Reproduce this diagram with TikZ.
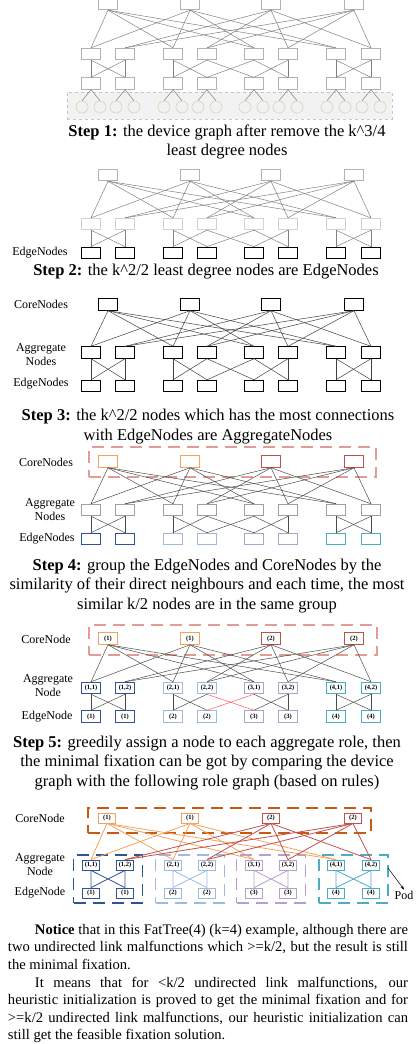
\documentclass[tikz,border=0pt]{standalone}
\usepackage{fontspec}
\setmainfont{Liberation Serif}
\usetikzlibrary{positioning}
\usetikzlibrary{arrows.meta}

\definecolor{coreA}{HTML}{F4A35F}
\definecolor{coreB}{HTML}{C0504D}
\definecolor{podA}{HTML}{2F5496}
\definecolor{podB}{HTML}{9DBBE0}
\definecolor{podC}{HTML}{B4A0CC}
\definecolor{podD}{HTML}{4BACC6}
\definecolor{corebox}{HTML}{E39C95}
\definecolor{rolebox}{HTML}{C55A11}
\definecolor{hostc}{HTML}{D9D6AE}

% core -> aggregate links, aggregate -> edge links of the device graph
\newcommand{\uplinks}{1/1,1/3,1/5,1/7,2/1,2/3,2/5,2/7,3/2,3/4,3/6,3/8,4/2,4/4,4/6,4/8}
\newcommand{\downlinks}{1/1,1/2,2/1,2/2,3/3,3/4,4/3,5/6,6/5,6/6,7/7,7/8,8/7,8/8}
\newcommand{\badlinks}{4/5,5/4}

\begin{document}
\begin{tikzpicture}[x=1pt, y=-1pt,
    switch/.style={draw, rectangle, minimum width=19pt, minimum height=11.5pt, inner sep=0pt, line width=0.8pt, font=\fontsize{6.5}{7}\selectfont\bfseries},
    role/.style={switch, minimum width=17pt, minimum height=10pt},
    host/.style={draw=hostc, circle, minimum size=12pt, inner sep=0pt, line width=0.6pt},
    rolename/.style={font=\fontsize{12}{14}\selectfont, align=center, inner sep=1pt},
    steptext/.style={font=\fontsize{16.5}{19.5}\selectfont, align=center},
    link/.style={line width=0.5pt},
    group/.style={draw, rectangle, dash pattern=on 12pt off 7pt, line width=1.2pt, minimum height=30pt, inner sep=0pt}
  ]
  \useasboundingbox (0,0) rectangle (415,1044);

  % Step 1: device graph
  \node[draw=gray!45, dashed, fill=gray!10, minimum width=325pt, minimum height=27pt, inner sep=0pt] (hosts) at (229.5,105.5) {};
  \foreach \x [count=\i] in {108,190,271,354}
    \node[switch, draw=gray!60] (s1core\i) at (\x,4) {};
  \foreach \x [count=\i] in {91,125,173,207,254,288,336,371} {
    \node[switch, draw=gray!60] (s1agg\i) at (\x,54) {};
    \node[switch, draw=gray!60] (s1edge\i) at (\x,83.5) {};
    \node[host] (s1hostA\i) at (\x-9,107) {};
    \node[host] (s1hostB\i) at (\x+9,107) {};
    \draw[link, gray] (s1edge\i.south) -- (s1hostA\i.north);
    \draw[link, gray] (s1edge\i.south) -- (s1hostB\i.north);
  }
  \foreach \src/\dst in \uplinks
    \draw[link, gray] (s1core\src.south) -- (s1agg\dst.north);
  \foreach \src/\dst in \downlinks
    \draw[link, gray] (s1agg\src.south) -- (s1edge\dst.north);
  \foreach \src/\dst in \badlinks
    \draw[link, gray] (s1agg\src.south) -- (s1edge\dst.north);
  \node[steptext] (cap1) at (227,142) {\textbf{Step 1:} the device graph after remove the k\textasciicircum3/4\\least degree nodes};

  % Step 2: edge nodes
  \foreach \x [count=\i] in {108,190,271,354}
    \node[switch, draw=gray!60] (s2core\i) at (\x,175) {};
  \foreach \x [count=\i] in {91,125,173,207,254,288,336,371} {
    \node[switch, draw=gray!35] (s2agg\i) at (\x,224) {};
    \node[switch, draw=black, line width=1.3pt] (s2edge\i) at (\x,253) {};
  }
  \foreach \src/\dst in \uplinks
    \draw[link, gray] (s2core\src.south) -- (s2agg\dst.north);
  \foreach \src/\dst in \downlinks
    \draw[link, gray] (s2agg\src.south) -- (s2edge\dst.north);
  \foreach \src/\dst in \badlinks
    \draw[link, gray] (s2agg\src.south) -- (s2edge\dst.north);
  \node[rolename] (s2edgename) at (40,253) {EdgeNodes};
  \node[steptext] (cap2) at (206,272) {\textbf{Step 2:} the k\textasciicircum2/2 least degree nodes are EdgeNodes};

  % Step 3: aggregate nodes
  \foreach \x [count=\i] in {108,190,271,354}
    \node[switch, line width=0.9pt] (s3core\i) at (\x,304.5) {};
  \foreach \x [count=\i] in {91,125,173,207,254,288,336,371} {
    \node[switch, line width=0.9pt] (s3agg\i) at (\x,352.5) {};
    \node[switch, line width=0.9pt] (s3edge\i) at (\x,386) {};
  }
  \foreach \src/\dst in \uplinks
    \draw[link, black!75] (s3core\src.south) -- (s3agg\dst.north);
  \foreach \src/\dst in \downlinks
    \draw[link, black!75] (s3agg\src.south) -- (s3edge\dst.north);
  \foreach \src/\dst in \badlinks
    \draw[link, black!75] (s3agg\src.south) -- (s3edge\dst.north);
  \node[rolename] (s3corename) at (41,304.5) {CoreNodes};
  \node[rolename] (s3aggname) at (41,354.5) {Aggregate\\Nodes};
  \node[rolename] (s3edgename) at (41,384) {EdgeNodes};
  \node[steptext] (cap3) at (208,426.5) {\textbf{Step 3:} the k\textasciicircum2/2 nodes which has the most connections\\with EdgeNodes are AggregateNodes};

  % Step 4: grouping
  \node[group, draw=corebox, minimum width=287pt] (s4coregroup) at (232.5,462) {};
  \foreach \x/\col [count=\i] in {108/coreA,190/coreA,271/coreB,354/coreB}
    \node[switch, draw=\col, line width=1pt] (s4core\i) at (\x,461.5) {};
  \foreach \x/\col [count=\i] in {91/podA,125/podA,173/podB,207/podB,254/podC,288/podC,336/podD,371/podD} {
    \node[switch, draw=gray!75, line width=1pt] (s4agg\i) at (\x,510) {};
    \node[switch, draw=\col, line width=1pt] (s4edge\i) at (\x,539) {};
  }
  \foreach \src/\dst in \uplinks
    \draw[link, black!70] (s4core\src.south) -- (s4agg\dst.north);
  \foreach \src/\dst in \downlinks
    \draw[link, black!70] (s4agg\src.south) -- (s4edge\dst.north);
  \foreach \src/\dst in \badlinks
    \draw[link, black!70] (s4agg\src.south) -- (s4edge\dst.north);
  \node[rolename] (s4corename) at (46,462) {CoreNodes};
  \node[rolename] (s4aggname) at (50,510) {Aggregate\\Nodes};
  \node[rolename] (s4edgename) at (47,539) {EdgeNodes};
  \node[steptext] (cap4) at (207,586) {\textbf{Step 4:} group the EdgeNodes and CoreNodes by the\\similarity of their direct neighbours and each time, the most\\similar k/2 nodes are in the same group};

  % Step 5: role assignment
  \node[group, draw=corebox, minimum width=288pt] (s5coregroup) at (233,640) {};
  \foreach \x/\col/\n [count=\i] in {108/coreA/1,190/coreA/1,271/coreB/2,354/coreB/2}
    \node[switch, draw=\col, line width=1pt] (s5core\i) at (\x,638.5) {(\n)};
  \foreach \x/\col/\p/\j [count=\i] in {91/podA/1/1,125/podA/1/2,173/podB/2/1,207/podB/2/2,254/podC/3/1,288/podC/3/2,336/podD/4/1,371/podD/4/2} {
    \node[switch, draw=\col, line width=1pt] (s5agg\i) at (\x,688) {(\p,\j)};
    \node[switch, draw=\col, line width=1pt] (s5edge\i) at (\x,716.5) {(\p)};
  }
  \foreach \src/\dst in \uplinks
    \draw[link, black!70] (s5core\src.south) -- (s5agg\dst.north);
  \foreach \src/\dst in \downlinks
    \draw[link, black!70] (s5agg\src.south) -- (s5edge\dst.north);
  \foreach \src/\dst in \badlinks
    \draw[link, red!65] (s5agg\src.south) -- (s5edge\dst.north);
  \node[rolename] (s5corename) at (46,639) {CoreNode};
  \node[rolename] (s5aggname) at (48,686) {Aggregate\\Node};
  \node[rolename] (s5edgename) at (47,717) {EdgeNode};
  \node[steptext] (cap5) at (207,763) {\textbf{Step 5:} greedily assign a node to each aggregate role, then\\the minimal fixation can be got by comparing the device\\graph with the following role graph (based on rules)};

  % Role graph
  \node[group, draw=rolebox, line width=1.5pt, minimum width=283pt, minimum height=25pt] (rcoregroup) at (229.5,820.5) {};
  \foreach \x/\col [count=\i] in {108/podA,190/podB,271/podC,353.5/podD}
    \node[group, draw=\col, line width=1.5pt, minimum width=69pt, minimum height=48pt] (pod\i) at (\x,879) {};
  \foreach \x/\col/\n [count=\i] in {107/coreA/1,190/coreA/1,271/coreB/2,353/coreB/2}
    \node[role, draw=\col] (rcore\i) at (\x,818) {(\n)};
  \foreach \x/\col/\p/\j [count=\i] in {91/podA/1/1,125/podA/1/2,173/podB/2/1,207/podB/2/2,254/podC/3/1,288/podC/3/2,336/podD/4/1,371/podD/4/2} {
    \node[role, draw=\col] (ragg\i) at (\x,865) {(\p,\j)};
    \node[role, draw=\col] (redge\i) at (\x,893) {(\p)};
  }
  \foreach \dst in {1,3,5,7} {
    \draw[link, coreA, line width=0.8pt] (rcore1.south) -- (ragg\dst.north);
    \draw[link, coreA, line width=0.8pt] (rcore2.south) -- (ragg\dst.north);
  }
  \foreach \dst in {2,4,6,8} {
    \draw[link, coreB, line width=0.8pt] (rcore3.south) -- (ragg\dst.north);
    \draw[link, coreB, line width=0.8pt] (rcore4.south) -- (ragg\dst.north);
  }
  \foreach \p/\col in {1/podA,2/podB,3/podC,4/podD} {
    \pgfmathtruncatemacro\pa{2*\p-1}
    \pgfmathtruncatemacro\pb{2*\p}
    \draw[link, \col, line width=0.8pt] (ragg\pa.south) -- (redge\pa.north) (ragg\pa.south) -- (redge\pb.north)
      (ragg\pb.south) -- (redge\pa.north) (ragg\pb.south) -- (redge\pb.north);
  }
  \node[rolename] (rcorename) at (40,818) {CoreNode};
  \node[rolename] (raggname) at (40,864.5) {Aggregate\\Node};
  \node[rolename] (redgename) at (40,893) {EdgeNode};
  \node[rolename] (podname) at (404,895) {Pod};
  \coordinate (podtip) at (388,868);
  \draw[-{Stealth[length=4pt, width=3pt]}, line width=0.5pt] (podtip) -- (podname.north);

  % Notice text
  \node[text width=400pt, align=justify, font=\fontsize{14.6}{17.6}\selectfont, inner sep=0pt] (notice) at (208,983.5) {%
    \hspace*{27pt}\textbf{Notice} that in this FatTree(4) (k=4) example, although there are\linebreak
    two undirected link malfunctions which >=k/2, but the result is still\linebreak
    the minimal fixation.\\
    \hspace*{27pt}It means that for <k/2 undirected link malfunctions, our\linebreak
    heuristic initialization is proved to get the minimal fixation and for\linebreak
    >=k/2 undirected link malfunctions, our heuristic initialization can\linebreak
    still get the feasible fixation solution.};
\end{tikzpicture}
\end{document}
